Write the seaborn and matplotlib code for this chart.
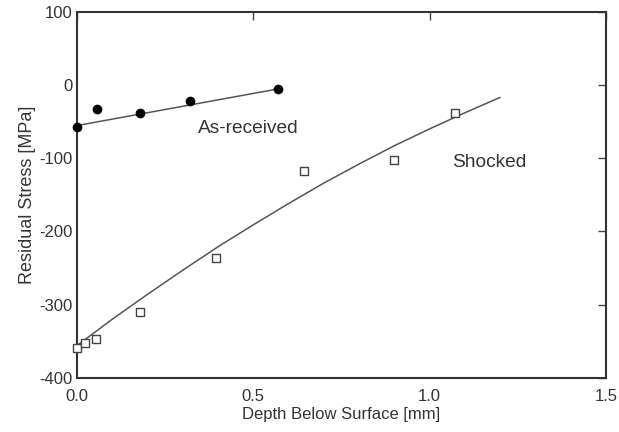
import matplotlib
matplotlib.use("Agg")
import matplotlib.pyplot as plt
import seaborn as sns
import pandas as pd

# As-received data
ar_depth = [0.0, 0.057, 0.179, 0.321, 0.571]
ar_stress = [-57.7, -33.0, -38.6, -22.2, -5.0]
# As-received fit line
ar_fit_depth = [0.0, 0.570]
ar_fit_stress = [-55.5, -5.5]

# Shocked data
sh_depth = [0.0, 0.024, 0.054, 0.179, 0.395, 0.644, 0.900, 1.072]
sh_stress = [-359.0, -352.0, -347.0, -310.0, -235.6, -118.0, -102.0, -38.6]
# Shocked fit curve
sh_fit_depth = [0.0, 0.1, 0.2, 0.3, 0.4, 0.5, 0.6, 0.7, 0.8, 0.9, 1.0, 1.1, 1.2]
sh_fit_stress = [-356, -320, -286, -253, -221, -191, -162, -134, -108, -83, -60, -38, -17]

x_ticks = [0.0, 0.5, 1.0, 1.5]
y_ticks = [100, 0, -100, -200, -300, -400]

sns.set_theme(style="white")
plt.rcParams['font.family'] = ['Liberation Sans', 'DejaVu Sans']
plt.rcParams['axes.unicode_minus'] = False

fig = plt.figure(figsize=(6.19, 4.32), dpi=100)
ax = fig.add_axes([0.124, 0.125, 0.855, 0.848])

line_col = '#555555'
sns.lineplot(x=ar_fit_depth, y=ar_fit_stress, ax=ax, color=line_col, lw=1.1, sort=False)
sns.lineplot(x=sh_fit_depth, y=sh_fit_stress, ax=ax, color=line_col, lw=1.1, sort=False)
sns.scatterplot(x=ar_depth, y=ar_stress, ax=ax, marker='o', s=42, color='black',
                edgecolor='black', zorder=5, clip_on=False)
sns.scatterplot(x=sh_depth, y=sh_stress, ax=ax, marker='s', s=30, facecolor='white',
                edgecolor='#444444', linewidth=1.0, zorder=5, clip_on=False)

ax.set_xlim(0, 1.5)
ax.set_ylim(-400, 100)
ax.set_xticks(x_ticks)
ax.set_xticklabels([f"{v:.1f}" for v in x_ticks])
ax.set_yticks(y_ticks)
ax.set_yticklabels([str(v) for v in y_ticks])
ax.tick_params(direction='in', length=6, width=1, color='#444444',
               top=True, right=True, labelsize=12, labelcolor='#333333', pad=3)
ax.tick_params(axis='x', pad=8)

for s in ax.spines.values():
    s.set_color('#333333')
    s.set_linewidth(1.5)

ax.set_xlabel("Depth Below Surface [mm]", fontsize=12, color='#333333', labelpad=2)
ax.set_ylabel("Residual Stress [MPa]", fontsize=13, color='#333333', labelpad=2)

ax.text(0.344, -59, "As-received", fontsize=13.8, color='#333333', va='center', ha='left')
ax.text(1.063, -106.4, "Shocked", fontsize=13.8, color='#333333', va='center', ha='left')

fig.savefig("out.png", dpi=100)
